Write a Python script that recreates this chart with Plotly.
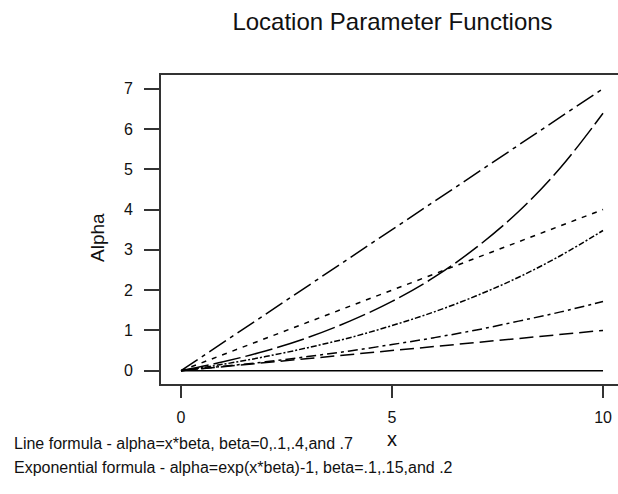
import plotly.graph_objects as go

# x grid shared by all curves
x_vals = [0, 1, 2, 3, 4, 5, 6, 7, 8, 9, 10]

# alpha = x*beta for beta = 0, .1, .4, .7
line_b00 = [0, 0, 0, 0, 0, 0, 0, 0, 0, 0, 0]
line_b10 = [0, 0.1, 0.2, 0.3, 0.4, 0.5, 0.6, 0.7, 0.8, 0.9, 1.0]
line_b40 = [0, 0.4, 0.8, 1.2, 1.6, 2.0, 2.4, 2.8, 3.2, 3.6, 4.0]
line_b70 = [0, 0.7, 1.4, 2.1, 2.8, 3.5, 4.2, 4.9, 5.6, 6.3, 7.0]

# alpha = exp(x*beta)-1 for beta = .1, .15, .2
exp_b10 = [0, 0.11, 0.22, 0.35, 0.49, 0.65, 0.82, 1.01, 1.23, 1.46, 1.72]
exp_b15 = [0, 0.16, 0.35, 0.57, 0.82, 1.12, 1.46, 1.86, 2.32, 2.86, 3.48]
exp_b20 = [0, 0.22, 0.49, 0.82, 1.23, 1.72, 2.32, 3.06, 3.95, 5.05, 6.39]

x_ticks = [0, 5, 10]
y_ticks = [0, 1, 2, 3, 4, 5, 6, 7]

W, H = 618, 494
L, R, T, B = 161, 0, 75, 110
PW, PH = W - L - R, H - T - B

FONT = "Liberation Sans, Arial, sans-serif"


def px_x(p):
    return (p - L) / PW


def px_y(p):
    return (H - B - p) / PH


series = [
    (line_b00, "solid", "spline"),
    (line_b10, "14px,6px", "linear"),
    (line_b40, "5px,6px", "linear"),
    (line_b70, "20px,5px,4px,5px", "linear"),
    (exp_b10, "10px,4px,3px,4px", "spline"),
    (exp_b15, "6px,2px,2px,2px", "spline"),
    (exp_b20, "28px,5px", "spline"),
]

fig = go.Figure()
for ys, dash, shape in series:
    fig.add_trace(go.Scatter(
        x=x_vals, y=ys, mode="lines",
        line=dict(color="black", width=1.5, dash=dash, shape=shape),
        showlegend=False, hoverinfo="skip",
    ))

fig.update_layout(
    width=W, height=H,
    margin=dict(l=L, r=R, t=T, b=B, pad=0),
    paper_bgcolor="white", plot_bgcolor="white",
    font=dict(family=FONT, color="#111", size=16),
    showlegend=False,
    title=dict(
        text="Location Parameter Functions",
        font=dict(family=FONT, size=24, color="#111"),
        x=392.5 / W, xref="container", xanchor="center",
        y=1 - 22 / H, yref="container", yanchor="middle",
    ),
    xaxis=dict(
        range=[-0.474, 10.355],
        tickvals=x_ticks, ticktext=[str(v) for v in x_ticks],
        ticks="outside", ticklen=12, tickwidth=1.5, tickcolor="#333",
        showline=True, linecolor="#333", linewidth=2, mirror=True,
        showgrid=False, zeroline=False,
        tickfont=dict(family=FONT, size=16, color="#111"),
        ticklabelstandoff=6,
    ),
    yaxis=dict(
        range=[-0.33, 7.339],
        tickvals=y_ticks, ticktext=[str(v) for v in y_ticks],
        ticks="outside", ticklen=15, tickwidth=1.5, tickcolor="#333",
        showline=True, linecolor="#333", linewidth=2, mirror=False,
        showgrid=False, zeroline=False,
        tickfont=dict(family=FONT, size=16, color="#111"),
        ticklabelstandoff=8,
    ),
    annotations=[
        dict(text="Alpha", xref="paper", yref="paper",
             x=px_x(97), y=px_y(238), xanchor="center", yanchor="middle",
             textangle=-90, showarrow=False,
             font=dict(family=FONT, size=19, color="#111")),
        dict(text="x", xref="paper", yref="paper",
             x=px_x(392), y=px_y(439), xanchor="center", yanchor="middle",
             showarrow=False, font=dict(family=FONT, size=20, color="#111")),
        dict(text="Line formula - alpha=x*beta, beta=0,.1,.4,and .7",
             xref="paper", yref="paper",
             x=px_x(12), y=px_y(443), xanchor="left", yanchor="middle",
             showarrow=False, font=dict(family=FONT, size=16, color="#111")),
        dict(text="Exponential formula - alpha=exp(x*beta)-1, beta=.1,.15,and .2",
             xref="paper", yref="paper",
             x=px_x(12), y=px_y(467), xanchor="left", yanchor="middle",
             showarrow=False, font=dict(family=FONT, size=16, color="#111")),
    ],
)

fig.write_html("out.html")
